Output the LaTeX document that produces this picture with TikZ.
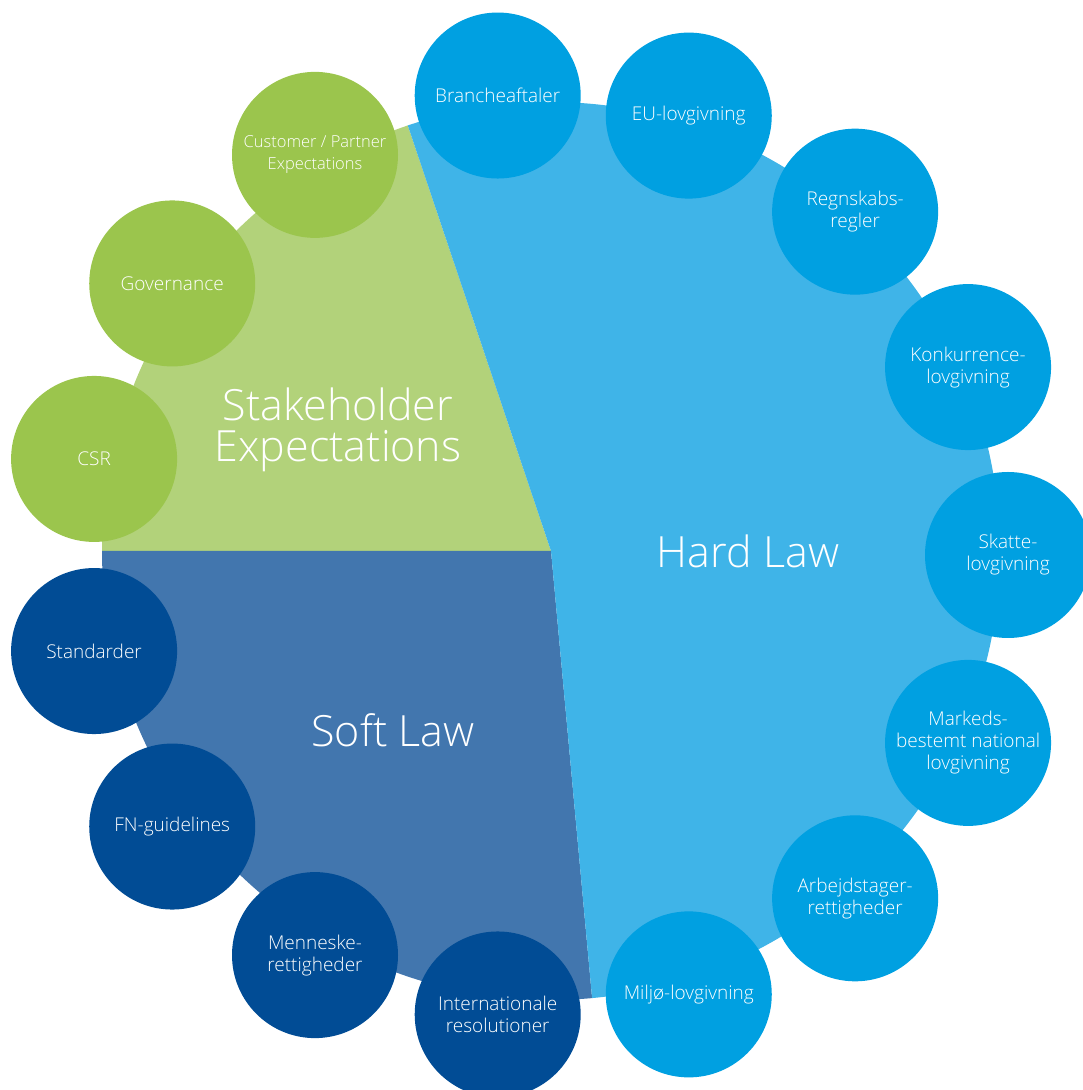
\documentclass[tikz,border=0pt]{standalone}
\usepackage{fontspec}
\setmainfont{Open Sans Light}
\usetikzlibrary{positioning,calc}
\definecolor{stakefill}{RGB}{178,210,122}
\definecolor{stakedot}{RGB}{155,197,77}
\definecolor{hardfill}{RGB}{63,180,232}
\definecolor{harddot}{RGB}{0,160,225}
\definecolor{softfill}{RGB}{66,118,174}
\definecolor{softdot}{RGB}{1,76,149}
\newcommand{\smallline}{\fontsize{16.5}{21}\selectfont}
\tikzset{
  lawdot/.style={circle, minimum size=166pt, inner sep=0pt, align=center,
    text=white, font=\fontsize{19}{22}\selectfont},
  lawtitle/.style={text=white, align=center, font=\fontsize{43}{41}\selectfont},
}

\begin{document}
\begin{tikzpicture}[x=1pt, y=1pt]
    \useasboundingbox (0,0) rectangle (1082,1090);
    \coordinate (pie) at (551,539);
    \coordinate (ring) at (546,535);

    % Sectors
    \fill [stakefill] (pie) -- ++(108.6:449) arc[start angle=108.6, end angle=180, radius=449] -- cycle;
    \fill [softfill] (pie) -- ++(180:449) arc[start angle=180, end angle=275.25, radius=449] -- cycle;
    \fill [hardfill] (pie) -- ++(-84.75:449) arc[start angle=-84.75, end angle=108.6, radius=449] -- cycle;

    % Outer circles
    \foreach \a/\nm/\col/\txt in {
        0/skat/harddot/{Skatte-\\lovgivning},
        24/konk/harddot/{Konkurrence-\\lovgivning},
        48/regn/harddot/{Regnskabs-\\regler},
        72/eu/harddot/{EU-lovgivning},
        96/branche/harddot/{Brancheaftaler},
        120/customer/stakedot/{\smallline Customer / Partner\\\smallline Expectations},
        144/governance/stakedot/{Governance},
        168/csr/stakedot/{CSR},
        192/standard/softdot/{Standarder},
        216/fn/softdot/{FN-guidelines},
        240/menneske/softdot/{Menneske-\\rettigheder},
        264/intres/softdot/{Internationale\\resolutioner},
        288/miljo/harddot/{Miljø-lovgivning},
        312/arbejd/harddot/{Arbejdstager-\\rettigheder},
        336/marked/harddot/{Markeds-\\bestemt national\\lovgivning}}
        \node [lawdot, fill=\col] (\nm) at ($(ring)+(\a:462)$) {\txt};

    % Sector titles
    \node [lawtitle] (stake) at (338,660) {Stakeholder\\Expectations};
    \node [lawtitle] (hard) at (748,539) {Hard Law};
    \node [lawtitle] (soft) at (393,360) {Soft Law};
\end{tikzpicture}
\end{document}
